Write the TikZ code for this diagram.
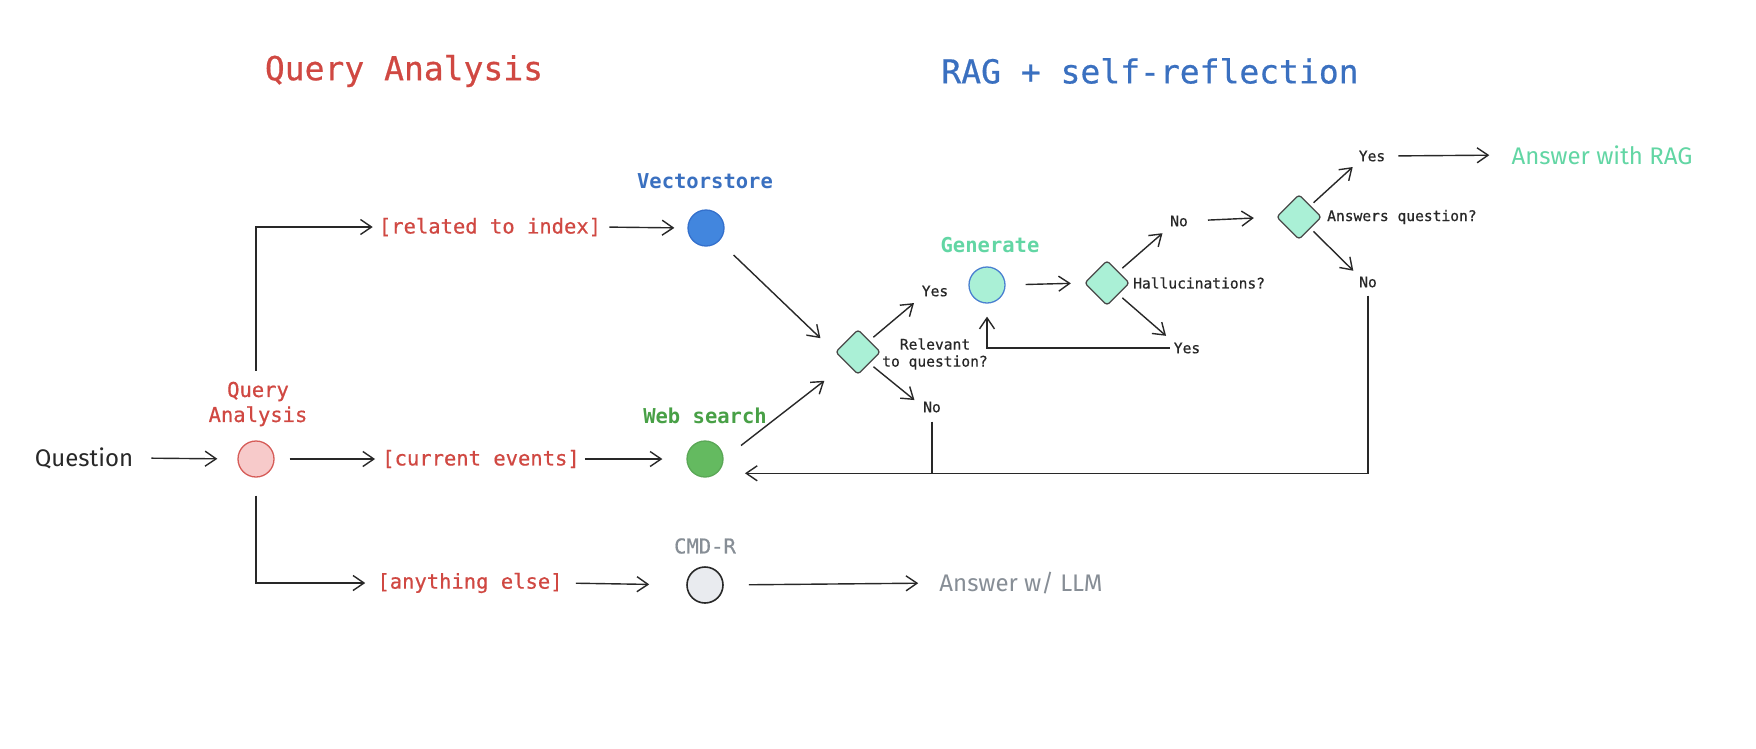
\documentclass[tikz,border=0pt]{standalone}
\usepackage{fontspec}
\setmainfont{Fira Sans}
\setmonofont{DejaVu Sans Mono}
\newfontfamily\medmono[FakeBold=0.6]{DejaVu Sans Mono}
\usetikzlibrary{arrows.meta,shapes.geometric}
\definecolor{qred}{RGB}{208,72,66}
\definecolor{qblue}{RGB}{58,112,192}
\definecolor{pinkf}{RGB}{247,202,202}
\definecolor{pinkd}{RGB}{214,92,88}
\definecolor{vsf}{RGB}{66,134,222}
\definecolor{vsd}{RGB}{52,112,204}
\definecolor{wsf}{RGB}{100,186,96}
\definecolor{wst}{RGB}{72,160,70}
\definecolor{mintf}{RGB}{170,240,214}
\definecolor{mintt}{RGB}{98,214,164}
\definecolor{genb}{RGB}{74,128,208}
\definecolor{grayf}{RGB}{233,235,239}
\definecolor{grayt}{RGB}{135,142,150}
\definecolor{ink}{RGB}{40,40,40}
\begin{document}
\begin{tikzpicture}[x=1pt,y=-1pt,
  arr/.style={draw=ink, line width=1.4pt, -{Straight Barb[length=11pt,width=15pt,line width=1.4pt]}},
  ln/.style={draw=ink, line width=1.4pt},
  dot/.style={circle, minimum size=36pt, inner sep=0pt, line width=1.3pt},
  dia/.style={diamond, minimum width=45pt, minimum height=45pt, inner sep=0pt, fill=mintf, draw=ink!85, line width=1.3pt, rounded corners=3pt},
  ttl/.style={font=\medmono\fontsize{33}{36}\selectfont, inner sep=0pt},
  lbl/.style={font=\medmono\fontsize{20.5}{25}\selectfont, inner sep=0pt},
  blbl/.style={font=\ttfamily\bfseries\fontsize{20.5}{25}\selectfont, inner sep=0pt},
  sml/.style={font=\medmono\fontsize{14.6}{17}\selectfont, inner sep=0pt, text=ink},
  hand/.style={font=\fontsize{24}{28}\selectfont, inner sep=0pt},
]
\fill[white] (0,0) rectangle (1756,748);
\path[use as bounding box] (0,0) rectangle (1756,748);

% titles
\node[ttl, text=qred] (t1) at (404,71) {Query Analysis};
\node[ttl, text=qblue] (t2) at (1150,71) {RAG + self-reflection};

% query analysis part
\node[hand, text=ink] (q) at (84,458) {Question};
\node[dot, fill=pinkf, draw=pinkd] (qa) at (256,459) {};
\node[lbl, text=qred, align=center] (qal) at (258,404) {Query\\Analysis};
\node[lbl, text=qred] (rel) at (490,227) {[related to index]};
\node[lbl, text=qred] (cur) at (481,459) {[current events]};
\node[lbl, text=qred] (any) at (470,583) {[anything else]};

\node[dot, fill=vsf, draw=vsd] (vs) at (706,228) {};
\node[blbl, text=qblue] (vsl) at (705,181) {Vectorstore};
\node[dot, fill=wsf, draw=wsf!90!black] (ws) at (705,459) {};
\node[blbl, text=wst] (wsl) at (705,416) {Web search};
\node[dot, fill=grayf, draw=ink, line width=1.6pt] (cmd) at (705,585) {};
\node[lbl, text=grayt] (cmdl) at (705,546) {CMD-R};
\node[hand, text=grayt] (llm) at (1021,583) {Answer w/ LLM};

% self-reflection part
\node[dia] (d1) at (858,352) {};
\node[sml, align=center] (d1l) at (935,354) {Relevant\\to question?};
\node[sml] (d1y) at (935,291) {Yes};
\node[sml] (d1n) at (932,407) {No};

\node[dot, fill=mintf, draw=genb] (gen) at (987,285) {};
\node[blbl, text=mintt] (genl) at (990,245) {Generate};

\node[dia] (d2) at (1107,283) {};
\node[sml, anchor=west] (d2l) at (1133,283) {Hallucinations?};
\node[sml] (d2n) at (1179,221) {No};
\node[sml] (d2y) at (1187,348) {Yes};

\node[dia] (d3) at (1299,217) {};
\node[sml, anchor=west] (d3l) at (1327,217) {Answers question?};
\node[sml] (d3y) at (1372,156) {Yes};
\node[sml] (d3n) at (1368,282) {No};
\node[hand, text=mintt] (rag) at (1602,155) {Answer with RAG};

% connectors: query analysis
\draw[arr, shorten <=18pt, shorten >=20pt] (q.east) -- (qa.west);
\draw[arr, shorten <=11pt, shorten >=6pt] (qa |- qal.north) |- (rel.west);
\draw[arr, shorten <=15pt, shorten >=7pt] (qa.east) -- (cur.west);
\draw[arr, shorten <=18pt, shorten >=12pt] (qa.south) |- (any.west);
\draw[arr, shorten <=8pt, shorten >=13pt] (rel.east) -- (vs.west);
\draw[arr, shorten <=5pt, shorten >=24pt] (cur.east) -- (ws.west);
\draw[arr, shorten <=13pt, shorten >=37pt] (any.east) -- (cmd.west);
\draw[arr, shorten <=25pt, shorten >=21pt] (cmd.east) -- (llm.west);

% connectors: RAG
\draw[arr, shorten <=20pt, shorten >=20pt] (vs.south east) -- (d1.west);
\draw[arr, shorten <=22pt, shorten >=28pt] (ws.east) -- (d1.south west);
\draw[arr, shorten <=5pt, shorten >=10pt] (d1.north east) -- (d1y.south west);
\draw[arr, shorten <=5pt, shorten >=11pt] (d1.south east) -- (d1n.west);
\draw[ln, shorten <=9pt] (d1n.south) -- (d1n.south |- ws.-50);
\draw[arr, shorten <=20pt, shorten >=13pt] (gen.east) -- (d2.west);
\draw[arr, shorten <=5pt, shorten >=10pt] (d2.north east) -- (d2n.south west);
\draw[arr, shorten <=5pt, shorten >=10pt] (d2.south east) -- (d2y.north west);
\draw[arr, shorten <=4pt, shorten >=13pt] (d2y.west) -| (gen.south);
\draw[arr, shorten <=20pt, shorten >=22pt] (d2n.east) -- (d3.west);
\draw[arr, shorten <=4pt, shorten >=8pt] (d3.north east) -- (d3y.south west);
\draw[arr, shorten <=4pt, shorten >=8pt] (d3.south east) -- (d3n.north west);
\draw[arr, shorten <=13pt, shorten >=22pt] (d3y.east) -- (rag.west);
\draw[arr, shorten <=8pt, shorten >=28pt] (d3n.south) |- (ws.-50);
\end{tikzpicture}
\end{document}
